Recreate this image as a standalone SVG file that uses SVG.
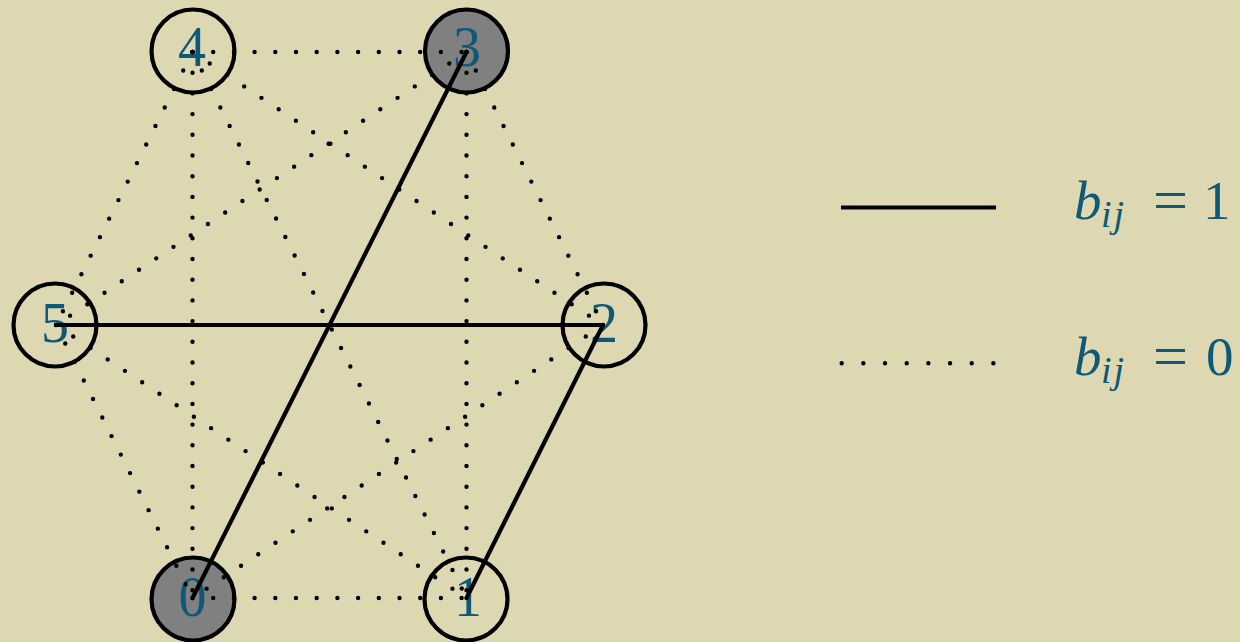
<svg xmlns="http://www.w3.org/2000/svg" width="1240" height="642" viewBox="0 0 1240 642">
<style>
.bg{fill:#DED8B2}
.node circle{stroke:#000;stroke-width:4.2;fill:none}
.node.gray circle{fill:#808080}
.lbl{font-family:"Liberation Serif","DejaVu Serif",serif;font-size:56px;fill:#0E5878;text-anchor:middle}
.dot{stroke:#000;stroke-width:4.4;stroke-linecap:round;stroke-dasharray:0 20.7;fill:none}
.solid{stroke:#000;stroke-width:4.2;stroke-linecap:round;fill:none}
.math{font-family:"Liberation Serif","DejaVu Serif",serif;fill:#0E5878}
</style>
<rect class="bg" x="0" y="0" width="1240" height="642"/>
<g id="nodes">
<g id="node4" class="node"><circle cx="193" cy="51" r="41.5"/><text class="lbl" x="192" y="66">4</text></g>
<g id="node3" class="node gray"><circle cx="466.5" cy="51" r="41.5"/><text class="lbl" x="467" y="66">3</text></g>
<g id="node5" class="node"><circle cx="55" cy="325" r="41.5"/><text class="lbl" x="55" y="342">5</text></g>
<g id="node2" class="node"><circle cx="604" cy="325" r="41.5"/><text class="lbl" x="604" y="342">2</text></g>
<g id="node0" class="node gray"><circle cx="193" cy="599" r="41.5"/><text class="lbl" x="192.5" y="616">0</text></g>
<g id="node1" class="node"><circle cx="466" cy="599" r="41.5"/><text class="lbl" x="468" y="616">1</text></g>
</g>
<g id="connectors">
<path class="dot" d="M192.5 52 L466.5 52"/>
<path class="dot" d="M192.5 52 L56 325"/>
<path class="dot" d="M192.5 52 L603 325"/>
<path class="dot" d="M192.5 52 L192.5 598"/>
<path class="dot" d="M192.5 52 L466.5 598"/>
<path class="dot" d="M466.5 52 L56 325"/>
<path class="dot" d="M466.5 52 L603 325"/>
<path class="dot" d="M466.5 52 L466.5 598"/>
<path class="dot" d="M56 325 L192.5 598"/>
<path class="dot" d="M56 325 L466.5 598"/>
<path class="dot" d="M603 325 L192.5 598"/>
<path class="dot" d="M192.5 598 L466.5 598"/>
<path class="solid" d="M192.5 598 L466.5 52"/>
<path class="solid" d="M56 325 L603 325"/>
<path class="solid" d="M603 325 L466.5 598"/>
</g>
<g id="legend">
<line x1="841" y1="207.5" x2="996" y2="207.5" stroke="#000" stroke-width="4.2"/>
<line x1="841.7" y1="363.3" x2="994" y2="363.3" class="dot" style="stroke-dasharray:0 21.67"/>
<text class="math" y="219" font-size="55"><tspan x="1074" font-style="italic">b</tspan><tspan x="1101" y="227" font-size="38" font-style="italic" letter-spacing="2">ij</tspan><tspan x="1153" y="221" font-size="62">=</tspan><tspan x="1203" y="219">1</tspan></text>
<text class="math" y="375" font-size="55"><tspan x="1074" font-style="italic">b</tspan><tspan x="1101" y="383" font-size="38" font-style="italic" letter-spacing="2">ij</tspan><tspan x="1153" y="377" font-size="62">=</tspan><tspan x="1206" y="375">0</tspan></text>
</g>
</svg>
